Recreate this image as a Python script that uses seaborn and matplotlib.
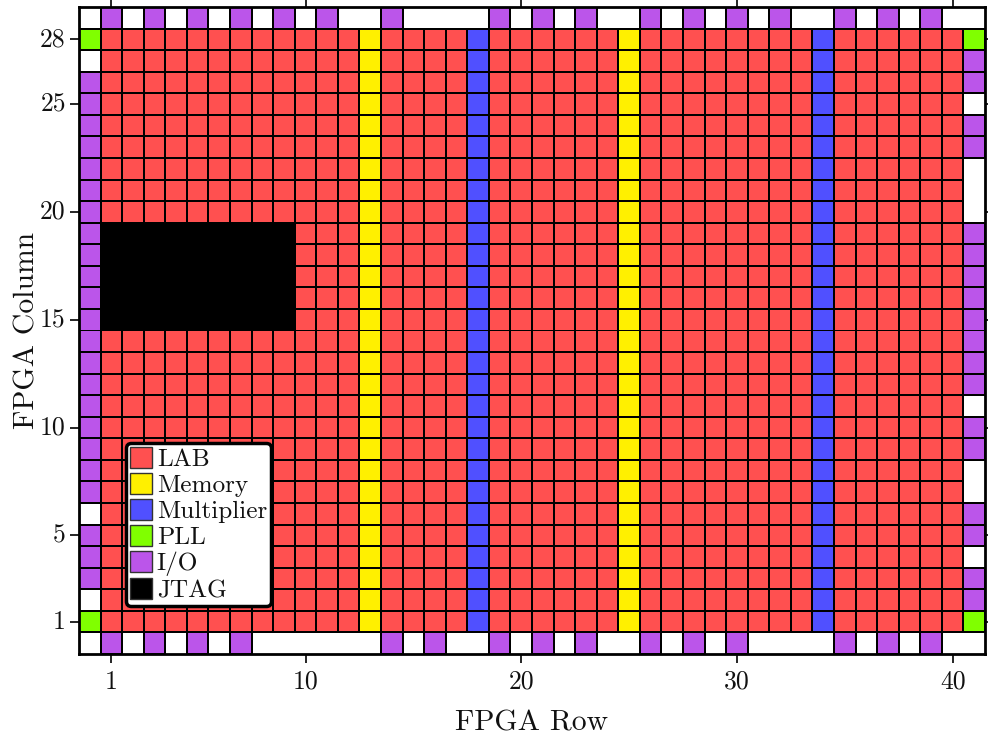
import numpy as np
import seaborn as sns
import matplotlib.pyplot as plt
from matplotlib.colors import ListedColormap
from matplotlib.patches import Patch

N_ROWS = 42
N_COLS = 30

block_names = ["LAB", "Memory", "Multiplier", "PLL", "I/O", "JTAG"]
block_colors = ["#FF5050", "#FFF000", "#5050FF", "#80FF00", "#BB55EA", "#000000"]

memory_rows = [13, 25]
multiplier_rows = [18, 34]
jtag_rows = [1, 2, 3, 4, 5, 6, 7, 8, 9]
jtag_cols = [15, 16, 17, 18, 19]
pll_cols = [1, 28]

# I/O pads around the edge of the chip
io_top = [1, 3, 5, 7, 9, 11, 14, 19, 21, 23, 26, 28, 30, 32, 35, 37, 39]
io_bottom = [1, 3, 5, 7, 14, 16, 19, 21, 23, 26, 28, 30, 35, 37, 39]
io_left = [3, 4, 5] + list(range(7, 27))
io_right = [2, 3, 5, 6, 9, 10] + list(range(12, 20)) + [23, 24, 26, 27]

xticks = [1, 10, 20, 30, 40]
yticks = [1, 5, 10, 15, 20, 25, 28]

# -1 means no block at that location
grid = np.full((N_COLS, N_ROWS), -1.0)
grid[1:29, 1:41] = 0
grid[1:29, memory_rows] = 1
grid[1:29, multiplier_rows] = 2
grid[np.ix_(jtag_cols, jtag_rows)] = 5
grid[np.ix_(pll_cols, [0, 41])] = 3
grid[29, io_top] = 4
grid[0, io_bottom] = 4
grid[io_left, 0] = 4
grid[io_right, 41] = 4

sns.set_style("ticks")
plt.rcParams["font.family"] = ["cmr10", "DejaVu Sans"]
plt.rcParams["axes.formatter.use_mathtext"] = True

fig = plt.figure(figsize=(9.88, 7.36), dpi=100)
ax = fig.add_axes([79 / 988, 1 - 654 / 736, 906 / 988, 647 / 736])

sns.heatmap(grid, mask=grid < 0, cmap=ListedColormap(block_colors), vmin=-0.5,
            vmax=5.5, cbar=False, linewidths=0.7, linecolor="black", ax=ax)
ax.invert_yaxis()
ax.set_aspect("auto")

# empty locations should not get a cell outline
mesh = ax.collections[0]
edge_colors = np.zeros((grid.size, 4))
edge_colors[:, 3] = (grid.ravel() >= 0).astype(float)
mesh.set_edgecolor(edge_colors)
mesh.set_antialiased(True)
mesh.set_snap(False)

for spine in ax.spines.values():
    spine.set_visible(True)
    spine.set_linewidth(2)
    spine.set_color("black")

ax.set_xticks(np.array(xticks) + 0.5)
ax.set_xticklabels(xticks, rotation=0)
ax.set_yticks(np.array(yticks) + 0.5)
ax.set_yticklabels(yticks, rotation=0)
ax.tick_params(axis="both", which="major", length=6.5, width=1.2, labelsize=18.5,
               color="black", labelcolor="#111111", top=True, right=True)
ax.tick_params(axis="x", pad=5)
ax.tick_params(axis="y", pad=3)
ax.set_xlabel("FPGA Row", fontsize=21.4, labelpad=12, color="#111111")
ax.set_ylabel("FPGA Column", fontsize=21.4, labelpad=0, color="#111111")

handles = [Patch(facecolor=c, edgecolor="#333333", linewidth=1)
           for c in block_colors]
leg = ax.legend(handles, block_names, loc="lower left",
                bbox_to_anchor=(47 / 906, 48 / 647), borderaxespad=0,
                fontsize=18.2, handlelength=0.87, handleheight=0.87,
                handletextpad=0.2, labelspacing=0.08, borderpad=0.15,
                fancybox=True, framealpha=1, facecolor="white",
                edgecolor="black", labelcolor="#111111")
leg.get_frame().set_linewidth(2.5)

fig.savefig("out.png", dpi=100)
